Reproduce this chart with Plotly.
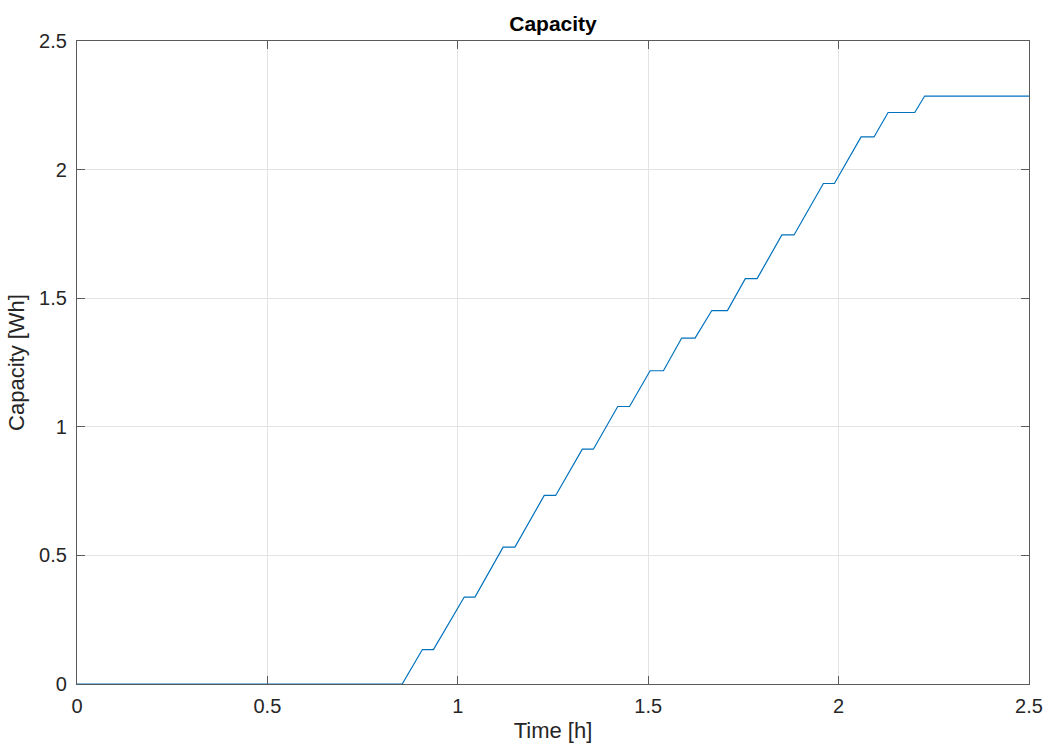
import plotly.graph_objects as go

# Accumulated capacity over time (charge steps with short pauses)
time_h = [0, 0.854, 0.907, 0.936, 1.017, 1.045, 1.119, 1.150, 1.227, 1.257,
          1.327, 1.356, 1.420, 1.451, 1.505, 1.540, 1.588, 1.623, 1.667, 1.708,
          1.755, 1.786, 1.851, 1.883, 1.960, 1.989, 2.059, 2.093, 2.130, 2.200,
          2.226, 2.5]
capacity_wh = [0, 0, 0.134, 0.134, 0.338, 0.338, 0.532, 0.532, 0.733, 0.733,
               0.913, 0.913, 1.079, 1.079, 1.218, 1.218, 1.345, 1.345, 1.452, 1.452,
               1.576, 1.576, 1.746, 1.746, 1.946, 1.946, 2.127, 2.127, 2.222, 2.222,
               2.286, 2.286]

x_ticks = [0, 0.5, 1, 1.5, 2, 2.5]
x_tick_labels = ["0", "0.5", "1", "1.5", "2", "2.5"]
y_ticks = [0, 0.5, 1, 1.5, 2, 2.5]
y_tick_labels = ["0", "0.5", "1", "1.5", "2", "2.5"]

FONT = "Liberation Sans, Arial, Helvetica, sans-serif"
TXT = "#262626"

fig = go.Figure()
fig.add_trace(go.Scatter(
    x=time_h, y=capacity_wh, mode="lines",
    line=dict(color="#0072BD", width=1.2),
    showlegend=False, hoverinfo="x+y",
))

axis_common = dict(
    showline=True, linecolor="#5a5a5a", linewidth=1.2, mirror="ticks",
    ticks="inside", ticklen=8, tickwidth=1.2, tickcolor="#5a5a5a",
    showgrid=True, gridcolor="#e3e3e3", gridwidth=1,
    zeroline=False,
    tickfont=dict(family=FONT, size=20, color=TXT),
)

fig.update_layout(
    width=1055, height=751,
    margin=dict(l=77, r=21, t=41, b=67),
    paper_bgcolor="white", plot_bgcolor="white",
    title=dict(text="<b>Capacity</b>", xref="paper", x=0.5, xanchor="center",
               y=1 - 24 / 751, yanchor="middle",
               font=dict(family=FONT, size=21, color="black")),
    xaxis=dict(range=[0, 2.5], tickvals=x_ticks, ticktext=x_tick_labels,
               ticklabelstandoff=4,
               title=dict(text="Time [h]", font=dict(family=FONT, size=22, color=TXT),
                          standoff=6),
               **axis_common),
    yaxis=dict(range=[0, 2.5], tickvals=y_ticks, ticktext=y_tick_labels,
               ticklabelstandoff=5,
               title=dict(text="Capacity [Wh]", font=dict(family=FONT, size=22, color=TXT),
                          standoff=8),
               **axis_common),
)

fig.write_html("out.html")
